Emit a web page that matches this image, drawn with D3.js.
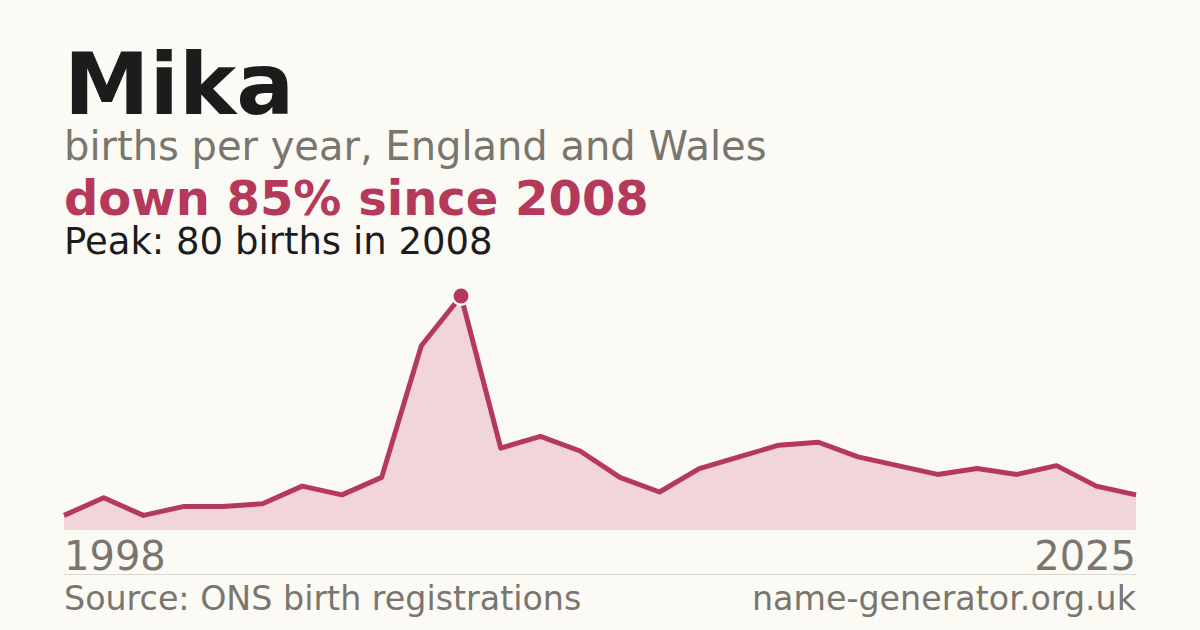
<!DOCTYPE html>
<html>
<head>
<meta charset="utf-8">
<script src="https://cdn.jsdelivr.net/npm/d3@7"></script>
<style>
  html, body { margin: 0; padding: 0; background: #fbfaf5; }
  svg { display: block; font-family: "DejaVu Sans", sans-serif; }
</style>
</head>
<body>
<svg id="chart"></svg>
<script>
// Chart size
const width = 1200;
const height = 630;

// Data
const years = d3.range(1998, 2026);
const births = [5, 11, 5, 8, 8, 9, 15, 12, 18, 63, 80, 28, 32, 27, 18, 13, 21, 25, 29, 30, 25, 22, 19, 21, 19, 22, 15, 12];
const peakYear = 2008;
const peakValue = 80;

// Colours
const red = "#b5395a";
const fillPink = "#f2d5db";
const grey = "#7a756d";

const svg = d3.select("#chart")
    .attr("width", width)
    .attr("height", height);

svg.append("rect")
    .attr("width", width)
    .attr("height", height)
    .attr("fill", "#fbfaf5");

// Scales
const x = d3.scaleLinear()
    .domain([years[0], years[years.length - 1]])
    .range([64, 1136]);

const y = d3.scaleLinear()
    .domain([0, peakValue])
    .range([530, 296]);

const points = years.map(function(yr, i) { return { year: yr, value: births[i] }; });

// Area under the line
const area = d3.area()
    .x(function(d) { return x(d.year); })
    .y0(y(0))
    .y1(function(d) { return y(d.value); });

svg.append("path")
    .datum(points)
    .attr("d", area)
    .attr("fill", fillPink);

// Line
const line = d3.line()
    .x(function(d) { return x(d.year); })
    .y(function(d) { return y(d.value); });

svg.append("path")
    .datum(points)
    .attr("d", line)
    .attr("fill", "none")
    .attr("stroke", red)
    .attr("stroke-width", 5)
    .attr("stroke-linejoin", "round");

// Peak marker with a light ring
svg.append("circle")
    .attr("cx", x(peakYear))
    .attr("cy", y(peakValue))
    .attr("r", 10)
    .attr("fill", "#fbfaf5");

svg.append("circle")
    .attr("cx", x(peakYear))
    .attr("cy", y(peakValue))
    .attr("r", 7.5)
    .attr("fill", red);

// Titles
svg.append("text")
    .attr("x", 64).attr("y", 114)
    .attr("font-size", 86).attr("font-weight", "bold")
    .attr("fill", "#1c1c1c")
    .text("Mika");

svg.append("text")
    .attr("x", 64).attr("y", 160)
    .attr("font-size", 40)
    .attr("fill", grey)
    .text("births per year, England and Wales");

svg.append("text")
    .attr("x", 64).attr("y", 215)
    .attr("font-size", 48).attr("font-weight", "bold")
    .attr("fill", red)
    .text("down 85% since 2008");

svg.append("text")
    .attr("x", 64).attr("y", 254)
    .attr("font-size", 37)
    .attr("fill", "#1c1c1c")
    .text("Peak: " + peakValue + " births in " + peakYear);

// Year labels at the ends of the axis
svg.append("text")
    .attr("x", x(years[0])).attr("y", 570)
    .attr("font-size", 40)
    .attr("fill", grey)
    .text(years[0]);

svg.append("text")
    .attr("x", x(years[years.length - 1])).attr("y", 570)
    .attr("font-size", 40)
    .attr("text-anchor", "end")
    .attr("fill", grey)
    .text(years[years.length - 1]);

// Separator
svg.append("line")
    .attr("x1", 64).attr("x2", 1136)
    .attr("y1", 574.5).attr("y2", 574.5)
    .attr("stroke", "#dcd9d2")
    .attr("stroke-width", 1);

// Footer
svg.append("text")
    .attr("x", 64).attr("y", 610)
    .attr("font-size", 33.3)
    .attr("fill", grey)
    .text("Source: ONS birth registrations");

svg.append("text")
    .attr("x", 1136).attr("y", 610)
    .attr("font-size", 33.3)
    .attr("text-anchor", "end")
    .attr("fill", grey)
    .text("name-generator.org.uk");
</script>
</body>
</html>
